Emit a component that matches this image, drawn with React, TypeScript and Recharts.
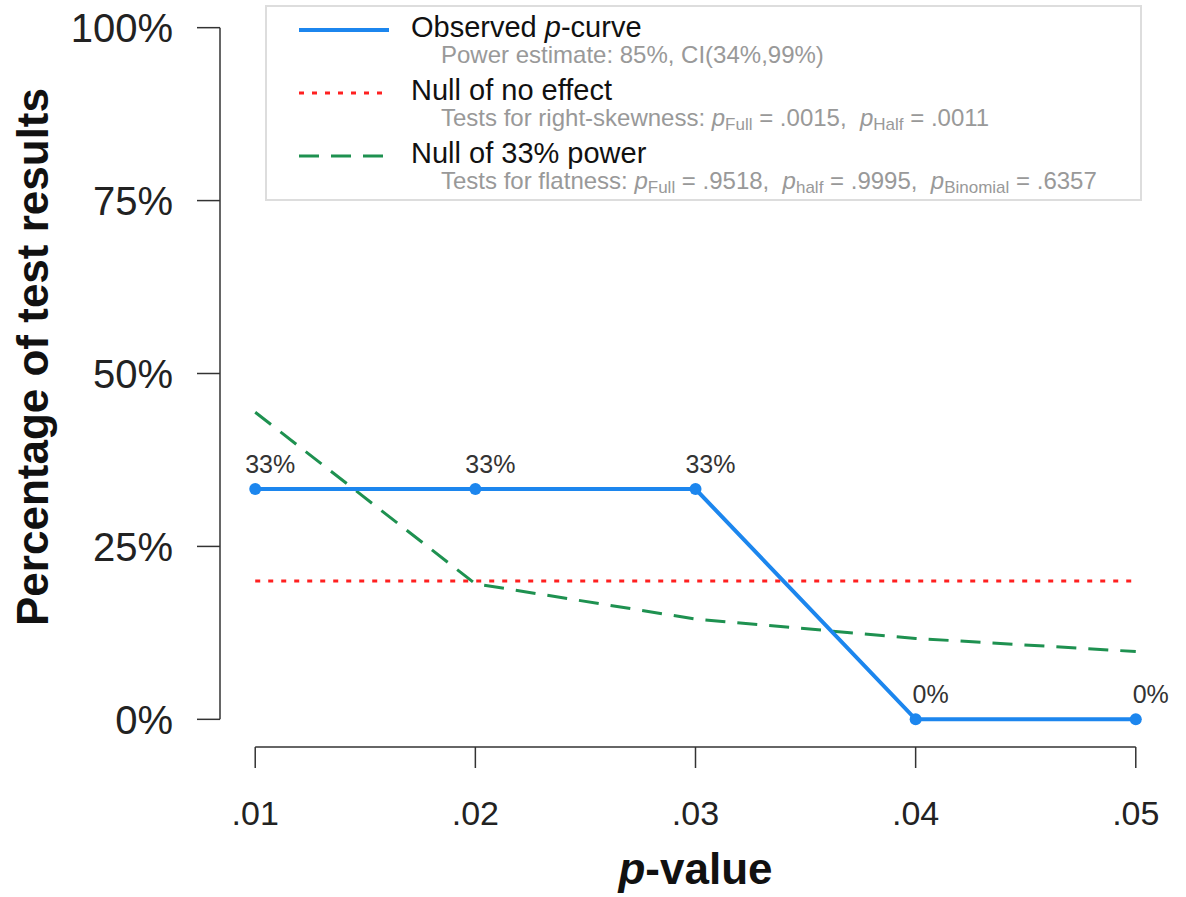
import React from 'react';
import { LineChart, Line, XAxis, YAxis, ReferenceLine, Legend, LabelList } from 'recharts';

const pValues = [0.01, 0.02, 0.03, 0.04, 0.05];
const observed = [33.3, 33.3, 33.3, 0, 0];
const observedLabels = ['33%', '33%', '33%', '0%', '0%'];
const nullNoEffect = [20, 20, 20, 20, 20];
const null33Power = [44.4, 19.6, 14.5, 11.7, 9.8];
const yTicks = [0, 25, 50, 75, 100];

const FONT = '"Liberation Sans", Arial, Helvetica, sans-serif';
const BLUE = '#1C86EE';
const RED = '#FF2020';
const GREEN = '#1E9150';
const GRAY = '#999999';

const data = pValues.map((p, i) => ({
    p,
    observed: observed[i],
    label: observedLabels[i],
    nullNoEffect: nullNoEffect[i],
    null33: null33Power[i],
}));

const Sub: React.FC<{ name: string }> = ({ name }) => (
    <>
        <i>p</i>
        <sub style={{ fontSize: 17, verticalAlign: '-4px' }}>{name}</sub>
    </>
);

const legendItems = [
    {
        key: 'observed',
        color: BLUE,
        dash: undefined as string | undefined,
        width: 4,
        title: <>Observed <i>p</i>-curve</>,
        note: <>Power estimate: 85%, CI(34%,99%)</>,
    },
    {
        key: 'nullNoEffect',
        color: RED,
        dash: '5 8',
        width: 3,
        title: <>Null of no effect</>,
        note: <>Tests for right-skewness: <Sub name="Full" /> = .0015,{'  '}<Sub name="Half" /> = .0011</>,
    },
    {
        key: 'null33',
        color: GREEN,
        dash: '20 12',
        width: 3,
        title: <>Null of 33% power</>,
        note: <>Tests for flatness: <Sub name="Full" /> = .9518,{'  '}<Sub name="half" /> = .9995,{'  '}<Sub name="Binomial" /> = .6357</>,
    },
];

const renderLegend = () => (
    <div style={{
        width: '100%', height: '100%', boxSizing: 'border-box', border: '2px solid #dddddd',
        background: '#fff', position: 'relative', fontFamily: FONT,
    }}>
        {legendItems.map((item, i) => (
            <div key={item.key} style={{ position: 'absolute', left: 0, top: 5 + i * 63, width: '100%' }}>
                <svg width={130} height={30} style={{ position: 'absolute', left: 0, top: 0 }}>
                    <line x1={32} x2={122} y1={18} y2={18} stroke={item.color} strokeWidth={item.width} strokeDasharray={item.dash} />
                </svg>
                <div style={{ position: 'absolute', left: 144, top: 0, fontSize: 29, lineHeight: '30px', color: '#111', whiteSpace: 'pre' }}>
                    {item.title}
                </div>
                <div style={{ position: 'absolute', left: 174, top: 30, fontSize: 24, lineHeight: '26px', color: GRAY, whiteSpace: 'pre' }}>
                    {item.note}
                </div>
            </div>
        ))}
    </div>
);

const renderPointLabel = (props: any) => {
    const { x, y, value } = props;
    return (
        <text x={x + 15} y={y - 16} textAnchor="middle" fontSize={25} fill="#333" fontFamily={FONT}>
            {value}
        </text>
    );
};

const XTitle = (props: any) => {
    const { viewBox } = props;
    return (
        <text x={viewBox.x + viewBox.width / 2} y={viewBox.y + 137} textAnchor="middle" fontSize={44} fontWeight="bold" fill="#111" fontFamily={FONT}>
            <tspan fontStyle="italic">p</tspan>
            <tspan>-value</tspan>
        </text>
    );
};

const YTitle = () => (
    <text x={48} y={357} transform="rotate(-90, 48, 357)" textAnchor="middle" fontSize={44} fontWeight="bold" fill="#111" fontFamily={FONT}>
        Percentage of test results
    </text>
);

export default function App() {
    return (
        <div style={{ position: 'absolute', left: 0, top: 0, background: '#fff' }}>
            <LineChart width={1186} height={897} data={data} margin={{ top: 0, right: 15, bottom: 0, left: 0 }}>
                <XAxis
                    dataKey="p"
                    type="number"
                    domain={[0.0084, 0.0516]}
                    ticks={pValues}
                    tickFormatter={(v: number) => v.toFixed(2).replace(/^0/, '')}
                    axisLine={false}
                    tickSize={21}
                    tickMargin={33}
                    height={150}
                    tickLine={{ stroke: '#333', strokeWidth: 1.5 }}
                    tick={{ fontSize: 34, fill: '#222', fontFamily: FONT }}
                    label={<XTitle />}
                    allowDataOverflow
                />
                <YAxis
                    type="number"
                    domain={[-4, 104]}
                    ticks={yTicks}
                    tickFormatter={(v: number) => `${v}%`}
                    axisLine={false}
                    tickSize={23}
                    tickMargin={24}
                    width={220}
                    tickLine={{ stroke: '#333', strokeWidth: 1.5 }}
                    tick={{ fontSize: 40, fill: '#222', fontFamily: FONT }}
                    label={<YTitle />}
                    allowDataOverflow
                />
                <ReferenceLine segment={[{ x: 0.01, y: -4 }, { x: 0.05, y: -4 }]} stroke="#333" strokeWidth={1.5} ifOverflow="visible" />
                <ReferenceLine segment={[{ x: 0.0084, y: 0 }, { x: 0.0084, y: 100 }]} stroke="#333" strokeWidth={1.5} ifOverflow="visible" />
                <Line dataKey="nullNoEffect" stroke={RED} strokeWidth={3} strokeDasharray="5 8" dot={false} isAnimationActive={false} />
                <Line dataKey="null33" stroke={GREEN} strokeWidth={3} strokeDasharray="20 12" dot={false} isAnimationActive={false} />
                <Line dataKey="observed" stroke={BLUE} strokeWidth={4} dot={{ r: 6, fill: BLUE, stroke: BLUE, strokeWidth: 0 }} isAnimationActive={false}>
                    <LabelList dataKey="label" content={renderPointLabel} />
                </Line>
                <Legend
                    layout="vertical"
                    align="center"
                    verticalAlign="middle"
                    content={renderLegend}
                    wrapperStyle={{ left: 265, top: 5, width: 877, height: 196 }}
                />
            </LineChart>
        </div>
    );
}
